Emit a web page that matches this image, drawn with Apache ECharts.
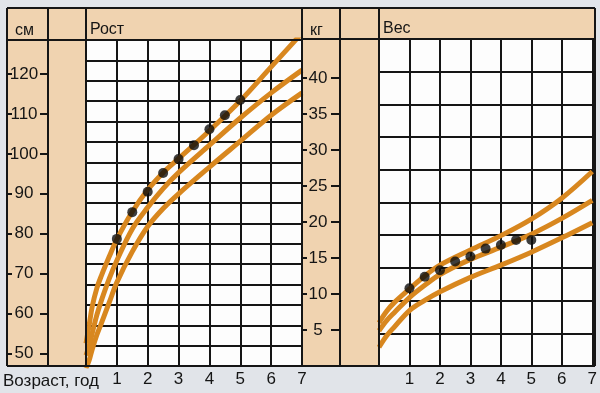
<!DOCTYPE html>
<html><head><meta charset="utf-8">
<script src="https://cdn.jsdelivr.net/npm/echarts@6/dist/echarts.min.js"></script>
<style>html,body{margin:0;padding:0;background:#e1e4e9}#c{width:600px;height:393px}</style>
</head><body><div id="c"></div>
<script>
// ---- data ----
const heightAges   = [0, 0.1, 0.2, 0.35, 0.5, 0.75, 1, 1.5, 2, 2.5, 3, 4, 5, 6, 7];
const heightUpper  = [52.5, 57.0, 61.7, 66.3, 69.5, 74.2, 78.6, 85.5, 91.0, 95.3, 98.8, 105.8, 113.3, 121.8, 130.3];
const heightMiddle = [49.5, 51.8, 55.0, 59.6, 63.3, 68.7, 73.3, 81.2, 86.6, 91.3, 95.3, 102.2, 109.0, 115.3, 121.0];
const heightLower  = [46.3, 48.2, 51.0, 54.6, 57.6, 62.7, 67.8, 75.5, 81.8, 86.3, 90.0, 96.7, 103.2, 109.7, 115.3];
const childAges    = [1, 1.5, 2, 2.5, 3, 3.5, 4, 4.5, 5];
const childHeight  = [78.7, 85.4, 90.5, 95.2, 98.7, 102.2, 106.2, 109.7, 113.5];
const weightAges   = [0, 0.25, 0.5, 1, 1.5, 2, 3, 4, 5, 6, 7];
const weightUpper  = [6.0, 7.6, 8.8, 10.7, 12.5, 14.0, 16.1, 18.1, 20.4, 23.3, 27.0];
const weightMiddle = [4.9, 6.3, 7.4, 9.5, 11.2, 12.7, 14.8, 16.5, 18.3, 20.5, 23.0];
const weightLower  = [2.6, 4.2, 5.4, 7.7, 9.1, 10.3, 12.3, 14.0, 15.8, 17.8, 19.9];
const childWeight  = [10.8, 12.4, 13.3, 14.5, 15.2, 16.3, 16.8, 17.5, 17.5];
const heightTicks  = [50, 60, 70, 80, 90, 100, 110, 120];
const weightTicks  = [5, 10, 15, 20, 25, 30, 35, 40];
const heightRange  = [46.84, 128.55];
const weightRange  = [0, 45.4];
const heightGridRows = 16;
const weightGridRows = 10;
const labels = {hUnit: 'см', hTitle: 'Рост', wUnit: 'кг', wTitle: 'Вес', xTitle: 'Возраст, год'};

// ---- styling ----
const FONT = '"Liberation Sans", Arial, sans-serif';
const INK = '#151515';
const ORANGE = '#d8871f';
const BEIGE = '#f0d3b0';

function pairs(xs, ys) { return xs.map((x, i) => [x, ys[i]]); }

function xAx(g) {
  return {
    gridIndex: g, type: 'value', min: 0, max: 7, interval: 1,
    axisLine: {show: false}, axisTick: {show: false},
    splitLine: {show: true, lineStyle: {color: INK, width: 2}},
    axisLabel: {showMinLabel: false, showMaxLabel: true, fontSize: 17, color: INK, margin: 5, fontFamily: FONT}
  };
}
function hiddenX(g) {
  return {gridIndex: g, type: 'value', min: 0, max: 1, show: false};
}
function plotY(g, range, rows) {
  return [
    {gridIndex: g, type: 'value', min: range[0], max: range[1], show: false},
    {gridIndex: g, type: 'value', min: 0, max: rows, interval: 1, position: 'right',
     axisLine: {show: false}, axisTick: {show: false}, axisLabel: {show: false},
     splitLine: {show: true, lineStyle: {color: INK, width: 2}}}
  ];
}
// label column: labels + short ticks at its left edge
function columnY(g, range, ticks, margin) {
  return {gridIndex: g, type: 'value', min: range[0], max: range[1], position: 'left',
     axisLine: {show: false}, splitLine: {show: false},
     axisTick: {show: true, inside: true, customValues: ticks, length: 5, lineStyle: {color: INK, width: 2}},
     axisLabel: {show: true, inside: true, customValues: ticks, margin: margin, align: 'center', fontSize: 17, color: INK, fontFamily: FONT}};
}
// narrow strip at the column's right edge: ticks only
function stripY(g, range, ticks, len) {
  return {gridIndex: g, type: 'value', min: range[0], max: range[1], position: 'left',
     axisLine: {show: false}, splitLine: {show: false}, axisLabel: {show: false},
     axisTick: {show: true, inside: true, customValues: ticks, length: len, lineStyle: {color: INK, width: 2}}};
}
function curve(xi, yi, xs, ys) {
  return {type: 'line', xAxisIndex: xi, yAxisIndex: yi, data: pairs(xs, ys), smooth: 0.35,
          symbol: 'none', clip: true, lineStyle: {color: ORANGE, width: 5}, z: 3};
}
function dots(xi, yi, xs, ys) {
  return {type: 'scatter', xAxisIndex: xi, yAxisIndex: yi, data: pairs(xs, ys), symbolSize: 10,
          itemStyle: {color: '#0d0d0d'}, z: 5};
}

const L = {top: 8, head: 40, headW: 39, bottom: 366, cols: [7, 48, 86, 302, 340, 379, 595]};
const border = [];
L.cols.forEach(x => border.push({type: 'line', z: 20, shape: {x1: x, y1: L.top, x2: x, y2: L.bottom}, style: {stroke: INK, lineWidth: 2}}));
border.push({type: 'line', z: 20, shape: {x1: 7, y1: L.top, x2: 595, y2: L.top}, style: {stroke: INK, lineWidth: 2}});
border.push({type: 'line', z: 20, shape: {x1: 7, y1: L.head, x2: 302, y2: L.head}, style: {stroke: INK, lineWidth: 2}});
border.push({type: 'line', z: 20, shape: {x1: 302, y1: L.headW, x2: 595, y2: L.headW}, style: {stroke: INK, lineWidth: 2}});
border.push({type: 'line', z: 20, shape: {x1: 7, y1: L.bottom, x2: 595, y2: L.bottom}, style: {stroke: INK, lineWidth: 2}});

function txt(t, x, y, size) {
  return {type: 'text', z: 21, style: {text: t, x: x, y: y, fill: INK, font: size + 'px ' + FONT,
          textAlign: 'left', textVerticalAlign: 'middle', align: 'left', verticalAlign: 'middle'}};
}

const chart = echarts.init(document.getElementById('c'), null, {renderer: 'canvas'});
chart.setOption({
  animation: false,
  backgroundColor: '#e1e4e9',
  grid: [
    {left: 86, top: 40, width: 216, height: 326, show: false},   // 0 height plot
    {left: 379, top: 39, width: 216, height: 327, show: false},  // 1 weight plot
    {left: 7, top: 40, width: 41, height: 326, show: false},     // 2 height labels
    {left: 302, top: 39, width: 38, height: 327, show: false},   // 3 weight labels
    {left: 40, top: 40, width: 8, height: 326, show: false},     // 4 height right ticks
    {left: 331, top: 39, width: 9, height: 327, show: false}     // 5 weight right ticks
  ],
  xAxis: [xAx(0), xAx(1), hiddenX(2), hiddenX(3), hiddenX(4), hiddenX(5)],
  yAxis: [].concat(
    plotY(0, heightRange, heightGridRows),          // 0,1
    plotY(1, weightRange, weightGridRows),          // 2,3
    [columnY(2, heightRange, heightTicks, 17),      // 4
     columnY(3, weightRange, weightTicks, 16),      // 5
     stripY(4, heightRange, heightTicks, 8),        // 6
     stripY(5, weightRange, weightTicks, 9)]        // 7
  ),
  graphic: [
    {type: 'rect', z: -10, shape: {x: 7, y: 8, width: 588, height: 358}, style: {fill: BEIGE}},
    {type: 'rect', z: -9, shape: {x: 86, y: 40, width: 216, height: 326}, style: {fill: '#fdfdfd'}},
    {type: 'rect', z: -9, shape: {x: 379, y: 39, width: 216, height: 327}, style: {fill: '#fdfdfd'}},
    ...border,
    txt(labels.hUnit, 15, 31, 16),
    txt(labels.hTitle, 90, 30, 16),
    txt(labels.wUnit, 310, 31, 16),
    txt(labels.wTitle, 383, 29, 16),
    txt(labels.xTitle, 3, 381, 17)
  ],
  series: [
    curve(0, 0, heightAges, heightUpper),
    curve(0, 0, heightAges, heightMiddle),
    curve(0, 0, heightAges, heightLower),
    dots(0, 0, childAges, childHeight),
    curve(1, 2, weightAges, weightUpper),
    curve(1, 2, weightAges, weightMiddle),
    curve(1, 2, weightAges, weightLower),
    dots(1, 2, childAges, childWeight)
  ]
});
</script></body></html>
